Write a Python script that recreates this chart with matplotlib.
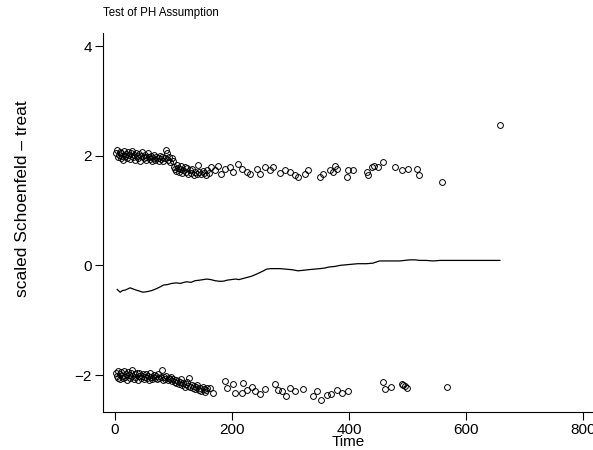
import numpy as np
import matplotlib.pyplot as plt

plt.rcParams['font.family'] = ['Liberation Sans', 'DejaVu Sans']

# scaled Schoenfeld residuals, treat = upper band
t_upper = [2, 4, 5, 7, 8, 10, 11, 13, 14, 16, 18, 19, 21, 23, 24, 26, 28, 30, 31, 33,
           35, 36, 38, 40, 42, 43, 45, 47, 49, 51, 53, 54, 56, 58, 60, 62, 63, 65, 67, 69,
           71, 73, 75, 77, 79, 81, 83, 85, 87, 89, 91, 93, 95, 97, 99,
           101, 103, 104, 106, 108, 110, 111, 113, 115, 117, 119, 121, 123, 125, 128, 130,
           132, 135, 137, 140, 142, 144, 147, 150, 152, 155, 157, 160,
           165, 171, 177, 182, 188, 197, 202, 211, 217, 225, 231, 242, 248, 256, 265, 271,
           282, 291, 299, 308, 313, 325, 330, 350, 356, 368, 376,
           373, 380, 396, 399, 407, 430, 433, 439, 442, 450, 459, 479, 490, 501, 516, 519,
           559, 658]
r_upper = [2.05, 2.10, 1.98, 2.02, 2.07, 1.95, 2.04, 2.00, 1.92, 2.08, 1.99, 2.03, 1.96, 2.06, 2.01, 1.94, 2.04, 2.09, 1.97, 2.02,
           1.93, 2.05, 2.00, 1.96, 2.03, 1.91, 1.99, 2.06, 1.95, 2.01, 1.97, 1.93, 2.04, 1.98, 1.94, 2.00, 1.90, 1.96, 2.02, 1.92,
           1.98, 1.95, 1.91, 2.00, 1.94, 1.97, 1.90, 1.96, 2.10, 2.05, 1.93, 1.98, 1.89, 1.95, 1.91,
           1.80, 1.76, 1.72, 1.83, 1.78, 1.70, 1.75, 1.81, 1.68, 1.74, 1.79, 1.71, 1.77, 1.66, 1.73, 1.69,
           1.76, 1.64, 1.71, 1.67, 1.83, 1.70, 1.66, 1.72, 1.68, 1.64, 1.74, 1.69,
           1.79, 1.73, 1.82, 1.67, 1.76, 1.79, 1.70, 1.85, 1.76, 1.70, 1.67, 1.76, 1.67, 1.79, 1.73, 1.79,
           1.68, 1.73, 1.70, 1.64, 1.62, 1.67, 1.73, 1.61, 1.67, 1.73, 1.82,
           1.70, 1.76, 1.62, 1.74, 1.74, 1.70, 1.65, 1.80, 1.82, 1.80, 1.88, 1.79, 1.74, 1.75, 1.76, 1.64,
           1.52, 2.56]

# lower band
t_lower = [2, 3, 5, 6, 8, 9, 11, 12, 14, 15, 17, 19, 20, 22, 24, 25, 27, 29, 30, 32,
           34, 35, 37, 39, 41, 42, 44, 46, 48, 50, 51, 53, 55, 57, 59, 60, 62, 64, 66, 68,
           70, 72, 74, 76, 78, 80, 82, 84, 86, 88, 90, 92, 94, 96, 98,
           100, 102, 104, 105, 107, 109, 111, 113, 115, 117, 119, 121, 123, 125, 127, 129,
           131, 133, 135, 137, 139, 141, 143, 145, 147, 150, 152, 154, 156, 158,
           162, 168, 188, 191, 202, 205, 217, 219, 225, 234, 239, 248, 256, 274, 279, 285,
           293, 299, 308, 322, 339, 345, 353, 362, 370, 379, 388, 399,
           459, 462, 471, 490, 493, 496, 500, 568]
r_lower = [-1.96, -2.02, -1.92, -2.05, -1.99, -2.08, -1.95, -2.01, -2.06, -1.93, -2.03, -1.98, -2.09, -1.94, -2.00, -2.05, -1.97, -2.02, -1.91, -2.07,
           -1.99, -2.04, -1.96, -2.10, -2.01, -1.97, -2.06, -2.02, -1.98, -2.08, -2.03, -1.99, -2.05, -2.01, -2.09, -1.97, -2.04, -2.07, -2.00, -2.05,
           -2.02, -2.08, -1.99, -2.06, -2.03, -1.90, -2.09, -2.04, -2.07, -2.01, -2.10, -2.05, -2.08, -2.03, -2.11,
           -2.07, -2.13, -2.09, -2.15, -2.11, -2.17, -2.13, -2.08, -2.19, -2.15, -2.21, -2.16, -2.12, -2.20, -2.06, -2.22,
           -2.18, -2.24, -2.20, -2.26, -2.22, -2.18, -2.27, -2.23, -2.29, -2.21, -2.25, -2.31, -2.27, -2.23,
           -2.24, -2.33, -2.11, -2.24, -2.17, -2.33, -2.33, -2.15, -2.27, -2.21, -2.30, -2.35, -2.25, -2.17, -2.27, -2.30,
           -2.39, -2.23, -2.30, -2.25, -2.39, -2.30, -2.45, -2.36, -2.35, -2.27, -2.33, -2.30,
           -2.13, -2.26, -2.21, -2.16, -2.18, -2.20, -2.24, -2.21]

# lowess smooth
t_smooth = [4, 7, 9, 13, 18, 22, 26, 31, 36, 42, 48, 55, 63, 70, 76, 83, 90, 97, 105, 112,
            118, 123, 130, 137, 145, 151, 157, 164, 171, 178, 185, 192, 199, 206, 212, 219, 226,
            233, 240, 248, 254, 259, 266, 274, 282, 293, 303, 313, 322, 330, 340, 350, 358,
            366, 376, 385, 395, 405, 415, 430, 441, 452, 465, 476, 487, 495, 504, 513, 521,
            532, 544, 556, 567, 590, 620, 658]
r_smooth = [-0.44, -0.47, -0.49, -0.46, -0.45, -0.43, -0.41, -0.43, -0.45, -0.47, -0.49, -0.48, -0.46, -0.43, -0.40, -0.36, -0.35, -0.33, -0.32, -0.33,
            -0.31, -0.30, -0.31, -0.28, -0.27, -0.26, -0.25, -0.26, -0.28, -0.29, -0.29, -0.27, -0.26, -0.25, -0.26, -0.24, -0.22,
            -0.20, -0.17, -0.13, -0.10, -0.07, -0.06, -0.06, -0.06, -0.07, -0.08, -0.10, -0.09, -0.08, -0.07, -0.06, -0.05,
            -0.03, -0.02, 0.00, 0.01, 0.02, 0.03, 0.03, 0.04, 0.08, 0.08, 0.08, 0.08, 0.09, 0.10, 0.10, 0.09,
            0.09, 0.08, 0.09, 0.09, 0.09, 0.09, 0.09]

fig = plt.figure(figsize=(5.93, 4.5), dpi=100)
ax = fig.add_axes([0.174, 0.085, 0.826, 0.842])

ax.plot(t_upper, r_upper, 'o', mfc='none', mec='black', ms=4.2, mew=0.7, ls='none')
ax.plot(t_lower, r_lower, 'o', mfc='none', mec='black', ms=4.2, mew=0.7, ls='none')
ax.plot(t_smooth, r_smooth, color='black', lw=0.9)

ax.set_xlim(-20, 817)
ax.set_ylim(-2.67, 4.24)
ax.set_xticks([0, 200, 400, 600, 800])
ax.set_yticks([-2, 0, 2, 4])
ax.set_yticklabels(['\u22122', '0', '2', '4'])

for s in ['top', 'right']:
    ax.spines[s].set_visible(False)
for s in ['left', 'bottom']:
    ax.spines[s].set_linewidth(0.8)
ax.tick_params(direction='out', length=6, width=0.8, labelsize=11, pad=2)

ax.set_xlabel('Time', fontsize=11, labelpad=-1)
fig.text(0.038, 0.558, 'scaled Schoenfeld \u2013 treat', rotation=90, fontsize=12.5,
         ha='center', va='center')
fig.text(0.174, 0.972, 'Test of PH Assumption', fontsize=8.3, ha='left', va='center')

fig.savefig('out.png', dpi=100)
